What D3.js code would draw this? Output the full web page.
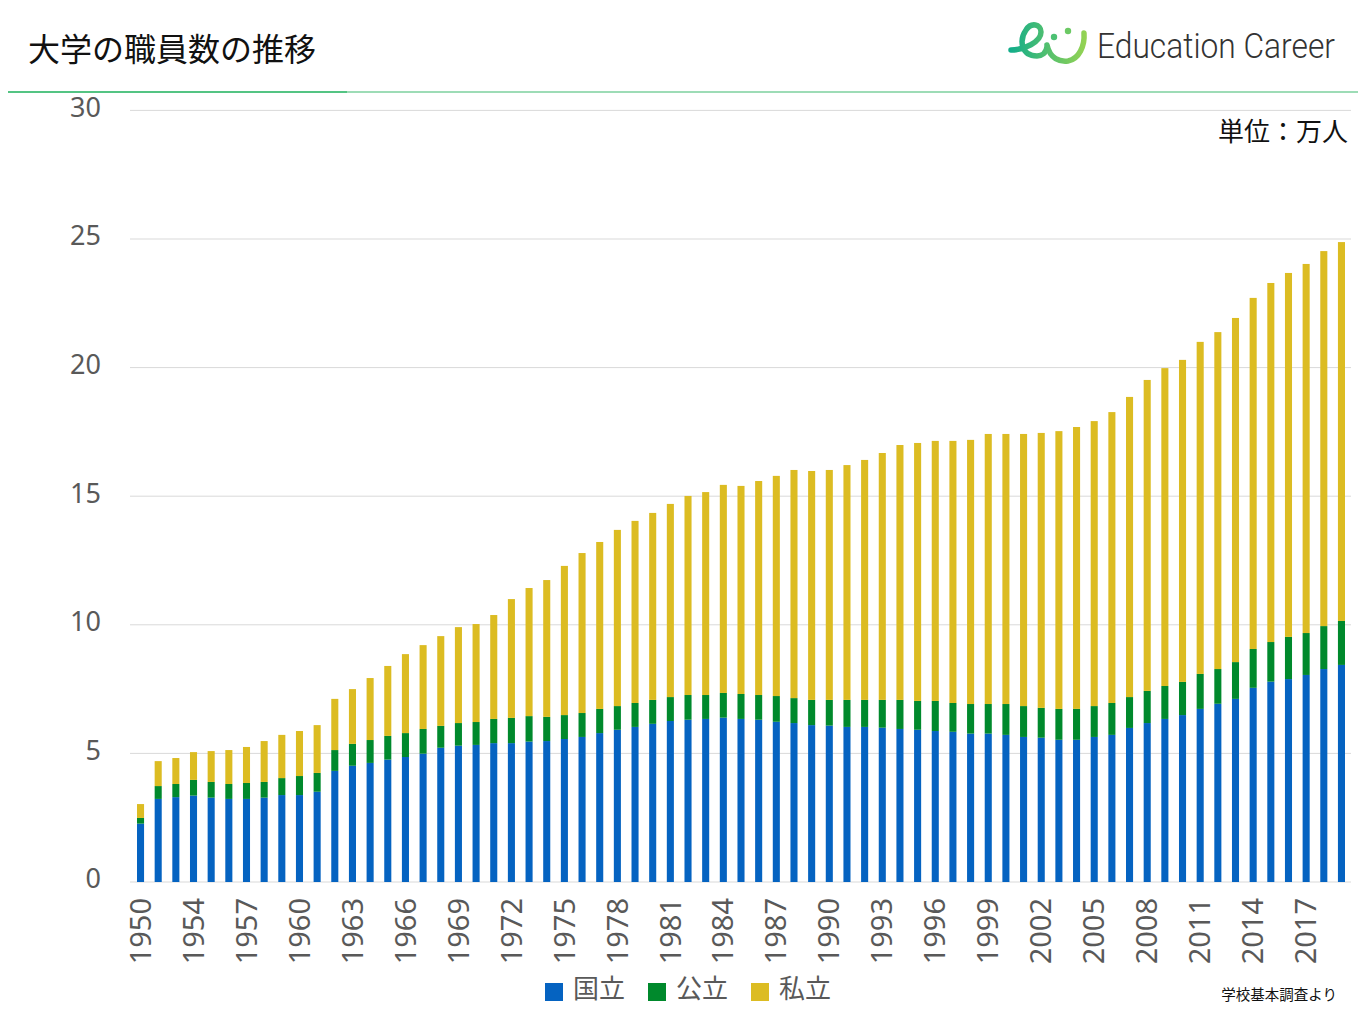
<!DOCTYPE html>
<html>
<head>
<meta charset="utf-8">
<script src="https://cdn.jsdelivr.net/npm/d3@7"></script>
<style>
body{margin:0;background:#fff;}
text{font-family:"Noto Sans","Noto Sans CJK JP",sans-serif;}
</style>
</head>
<body>
<script>
var years = [1950,1952,1953,1954,1955,1956,1957,1958,1959,1960,1961,1962,1963,1964,1965,1966,1967,1968,1969,
	1970,1971,1972,1973,1974,1975,1976,1977,1978,1979,1980,1981,1982,1983,1984,1985,1986,1987,1988,1989,
	1990,1991,1992,1993,1994,1995,1996,1997,1998,1999,2000,2001,2002,2003,2004,2005,2006,2007,2008,2009,
	2010,2011,2012,2013,2014,2015,2016,2017,2018,2019];

// 国立
var national = [2.27,3.23,3.30,3.36,3.28,3.23,3.23,3.28,3.38,3.38,3.51,4.32,4.52,4.63,4.76,4.86,4.99,5.22,5.30,
	5.33,5.40,5.40,5.46,5.48,5.56,5.64,5.79,5.92,6.03,6.15,6.26,6.31,6.34,6.39,6.34,6.31,6.23,6.18,6.10,
	6.08,6.03,6.03,6.00,5.95,5.92,5.87,5.84,5.77,5.77,5.72,5.64,5.61,5.53,5.53,5.64,5.72,5.99,6.18,6.34,
	6.49,6.73,6.93,7.12,7.55,7.79,7.89,8.05,8.28,8.44];

// 公立
var publicU = [0.22,0.50,0.51,0.61,0.61,0.58,0.62,0.61,0.66,0.74,0.73,0.81,0.85,0.89,0.92,0.93,0.96,0.85,0.88,
	0.89,0.94,0.98,0.99,0.94,0.93,0.93,0.94,0.92,0.93,0.93,0.93,0.96,0.93,0.96,0.97,0.96,1.00,0.97,0.98,
	1.00,1.05,1.05,1.08,1.13,1.12,1.17,1.12,1.15,1.15,1.20,1.20,1.16,1.20,1.20,1.20,1.24,1.20,1.25,1.28,
	1.29,1.36,1.35,1.43,1.51,1.54,1.64,1.63,1.67,1.71];

// 私立
var privateU = [0.54,0.97,1.01,1.08,1.20,1.32,1.40,1.59,1.68,1.75,1.86,1.99,2.13,2.41,2.72,3.07,3.26,3.49,3.73,
	3.81,4.04,4.62,4.98,5.32,5.80,6.22,6.49,6.85,7.08,7.27,7.51,7.74,7.89,8.09,8.09,8.32,8.56,8.87,8.90,
	8.94,9.13,9.33,9.60,9.91,10.03,10.11,10.19,10.27,10.50,10.50,10.58,10.69,10.80,10.96,11.08,11.31,11.67,12.09,12.36,
	12.52,12.91,13.10,13.38,13.65,13.96,14.15,14.35,14.58,14.73];

var seriesNames = ["国立","公立","私立"];
var seriesColors = ["#0563c1","#00892c","#dcbc22"];
var yTicks = [0,5,10,15,20,25,30];

var width = 1365,
	height = 1024;

var svg = d3.select("body").append("svg")
	.attr("width",width)
	.attr("height",height);

// header
svg.append("text")
	.attr("x",28)
	.attr("y",61)
	.style("font-family","'Noto Sans CJK JP'")
	.style("font-size","32px")
	.style("fill","#111")
	.text("大学の職員数の推移");

var grad = svg.append("defs").append("linearGradient")
	.attr("id","logoGrad")
	.attr("gradientUnits","userSpaceOnUse")
	.attr("x1",1010).attr("x2",1086).attr("y1",0).attr("y2",0);
grad.append("stop").attr("offset","0%").attr("stop-color","#12ad8a");
grad.append("stop").attr("offset","100%").attr("stop-color","#95d352");

svg.append("path")
	.attr("d","M1011,50 C1024,50 1041,42 1041,32 C1041,24 1031,22 1026,30 C1019,40 1021,56 1037,56 C1042,56 1046,53 1047,47")
	.style("fill","none")
	.style("stroke","url(#logoGrad)")
	.style("stroke-width",5.5)
	.style("stroke-linecap","round");
svg.append("path")
	.attr("d","M1047,45 C1050,59 1060,62 1068,61 C1079,59 1085,46 1084,33")
	.style("fill","none")
	.style("stroke","url(#logoGrad)")
	.style("stroke-width",5.5)
	.style("stroke-linecap","round");
svg.append("circle").attr("cx",1054).attr("cy",37).attr("r",3.2).style("fill","#4cc173");
svg.append("circle").attr("cx",1068).attr("cy",31).attr("r",3.2).style("fill","#6cc964");

svg.append("text")
	.attr("x",1097)
	.attr("y",58)
	.attr("textLength",238)
	.attr("lengthAdjust","spacingAndGlyphs")
	.style("font-family","Roboto")
	.style("font-weight",300)
	.style("font-size","35px")
	.style("fill","#333")
	.text("Education Career");

svg.append("line")
	.attr("x1",8).attr("x2",347).attr("y1",92).attr("y2",92)
	.style("stroke","#1bb05a").style("stroke-width",1.5);
svg.append("line")
	.attr("x1",347).attr("x2",1358).attr("y1",92).attr("y2",92)
	.style("stroke","#7dd19e").style("stroke-width",1.5);

// scales
var x = d3.scaleBand()
	.domain(years)
	.range([131.7,1350.3])
	.paddingInner(0.6)
	.paddingOuter(0.3);

var y = d3.scaleLinear()
	.domain([0,30])
	.range([882,110.4]);

// grid
svg.selectAll(".grid")
	.data(yTicks)
	.enter()
	.append("line")
	.attr("class","grid")
	.attr("x1",130)
	.attr("x2",1351)
	.attr("y1",function(d){ return y(d); })
	.attr("y2",function(d){ return y(d); })
	.style("stroke","#d9d9d9")
	.style("stroke-width",1);

svg.selectAll(".ylab")
	.data(yTicks)
	.enter()
	.append("text")
	.attr("class","ylab")
	.attr("x",101)
	.attr("y",function(d){ return y(d) - 3; })
	.attr("dy","0.35em")
	.attr("text-anchor","end")
	.style("font-size","27px")
	.style("fill","#595959")
	.text(function(d){ return d; });

// bars
var rows = years.map(function(yr,i){
	return {year:yr, a:national[i], b:publicU[i], c:privateU[i]};
});

var stack = d3.stack().keys(["a","b","c"])(rows);

svg.selectAll(".layer")
	.data(stack)
	.enter()
	.append("g")
	.attr("class","layer")
	.style("fill",function(d,i){ return seriesColors[i]; })
	.selectAll("rect")
	.data(function(d){ return d; })
	.enter()
	.append("rect")
	.attr("x",function(d){ return x(d.data.year); })
	.attr("width",x.bandwidth())
	.attr("y",function(d){ return y(d[1]); })
	.attr("height",function(d){ return y(d[0]) - y(d[1]); });

// x labels, every third bar
svg.selectAll(".xlab")
	.data(years.filter(function(d,i){ return i % 3 == 0; }))
	.enter()
	.append("text")
	.attr("class","xlab")
	.attr("transform",function(d){
		return "translate(" + (x(d) + x.bandwidth()/2) + ",898) rotate(-90)";
	})
	.attr("dy","0.35em")
	.attr("text-anchor","end")
	.style("font-size","29px")
	.style("fill","#595959")
	.text(function(d){ return d; });

svg.append("text")
	.attr("x",1348)
	.attr("y",141)
	.attr("text-anchor","end")
	.style("font-family","'Noto Sans CJK JP'")
	.style("font-size","26px")
	.style("fill","#111")
	.text("単位：万人");

// legend
var legendX = [545,648,751];
var lg = svg.selectAll(".lg")
	.data(seriesNames)
	.enter()
	.append("g")
	.attr("class","lg");

lg.append("rect")
	.attr("x",function(d,i){ return legendX[i]; })
	.attr("y",983)
	.attr("width",18)
	.attr("height",18)
	.style("fill",function(d,i){ return seriesColors[i]; });

lg.append("text")
	.attr("x",function(d,i){ return legendX[i] + 28; })
	.attr("y",998)
	.style("font-family","'Noto Sans CJK JP'")
	.style("font-size","26px")
	.style("fill","#595959")
	.text(function(d){ return d; });

svg.append("text")
	.attr("x",1337)
	.attr("y",1000)
	.attr("text-anchor","end")
	.style("font-family","'Noto Sans CJK JP'")
	.style("font-size","14.5px")
	.style("fill","#111")
	.text("学校基本調査より");
</script>
</body>
</html>
